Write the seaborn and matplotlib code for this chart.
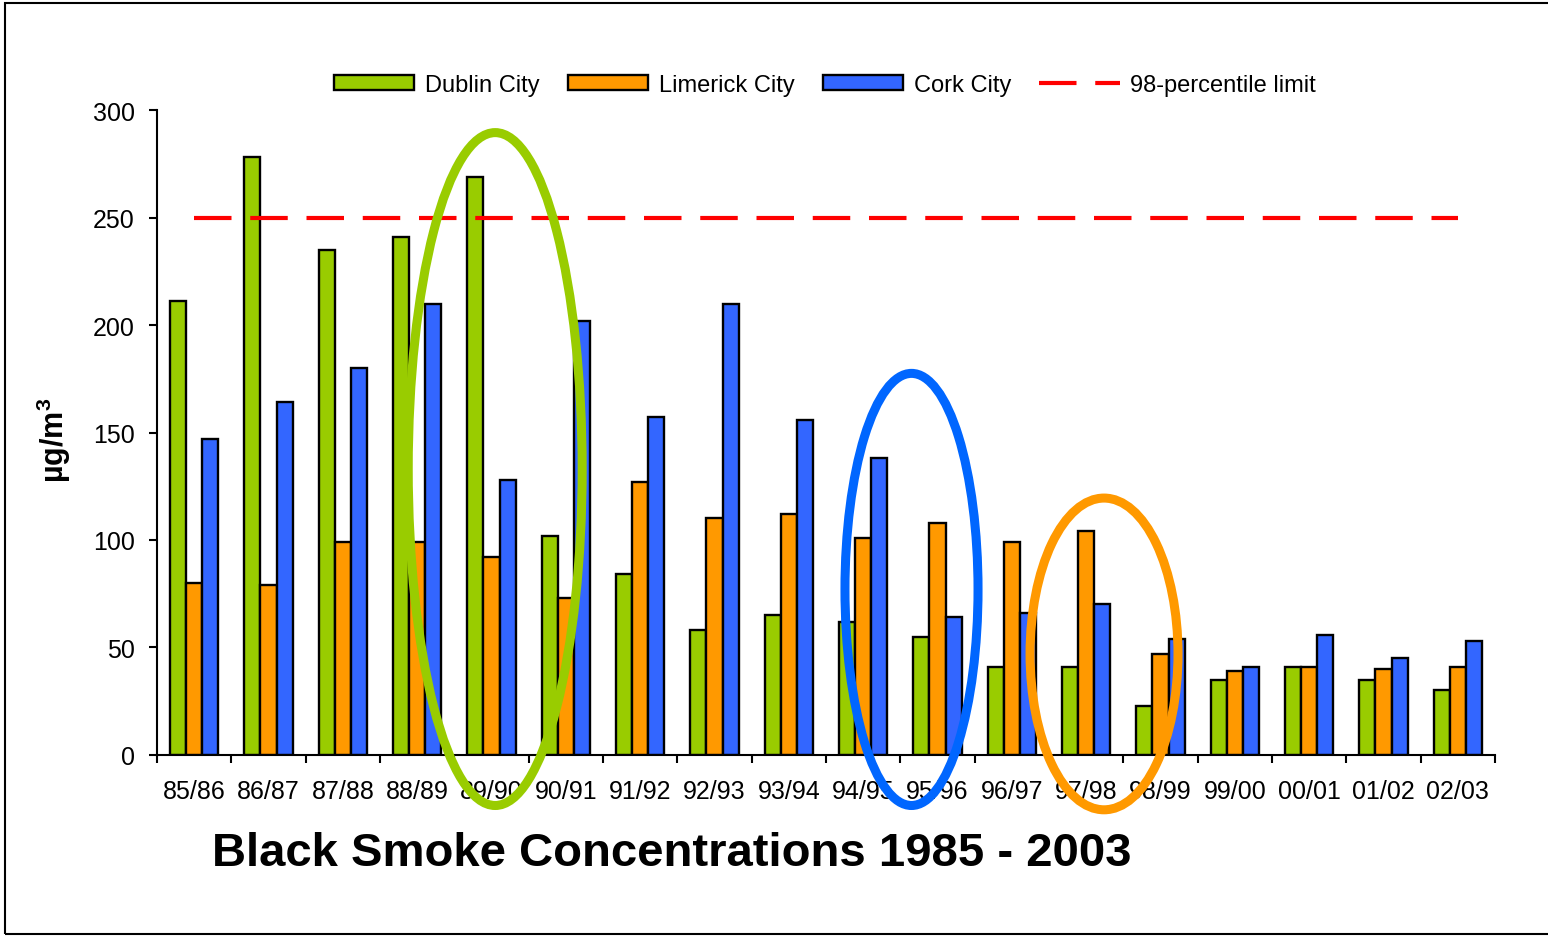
import pandas as pd
import numpy as np
import matplotlib.pyplot as plt
import seaborn as sns
from matplotlib.patches import Ellipse, Rectangle

# --- Dane (ug/m3) ---
seasons = ['85/86', '86/87', '87/88', '88/89', '89/90', '90/91', '91/92', '92/93', '93/94',
           '94/95', '95/96', '96/97', '97/98', '98/99', '99/00', '00/01', '01/02', '02/03']
dublin = [211, 278, 235, 241, 269, 102, 84, 58, 65, 62, 55, 41, 41, 23, 35, 41, 35, 30]
limerick = [80, 79, 99, 99, 92, 73, 127, 110, 112, 101, 108, 99, 104, 47, 39, 41, 40, 41]
cork = [147, 164, 180, 210, 128, 202, 157, 210, 156, 138, 64, 66, 70, 54, 41, 56, 45, 53]
limit = [250] * len(seasons)
cities = ['Dublin City', 'Limerick City', 'Cork City']
colors = ['#99CC00', '#FF9900', '#3366FF']

df = pd.DataFrame({'season': seasons, 'Dublin City': dublin,
                   'Limerick City': limerick, 'Cork City': cork})
df = df.melt(id_vars='season', var_name='city', value_name='value')

sns.set_style('ticks')
plt.rcParams['font.family'] = ['Liberation Sans', 'DejaVu Sans']
plt.rcParams['mathtext.fontset'] = 'custom'
plt.rcParams['mathtext.bf'] = 'Liberation Sans:bold'
plt.rcParams['mathtext.rm'] = 'Liberation Sans'
for k in ['text.color', 'axes.labelcolor', 'xtick.color', 'ytick.color', 'axes.edgecolor']:
    plt.rcParams[k] = 'black'

fig = plt.figure(figsize=(15.48, 9.37), dpi=100)
ax = fig.add_axes([0.1014, 0.1932, 0.8644, 0.6883])

sns.barplot(data=df, x='season', y='value', hue='city', hue_order=cities,
            palette=colors, width=0.65, edgecolor='black', linewidth=1.7,
            saturation=1, errorbar=None, ax=ax, legend=False)

# linia limitu 98-percentyla
limit_line, = ax.plot(range(len(seasons)), limit, color='#FF0000', lw=3, dashes=(9, 4.5),
                      label='98-percentile limit', zorder=3)

ax.set_xlim(-0.5, len(seasons) - 0.5)
ax.set_ylim(0, 300)
ax.set_yticks(np.arange(0, 301, 50))
ax.set_xlabel('')
ax.set_ylabel(r'µg/m$^\mathbf{3}$', fontsize=22, fontweight='bold')
ax.yaxis.set_label_coords(-0.063, 0.49)

# podzialki x na granicach kategorii
ax.set_xticks(range(len(seasons)))
ax.set_xticklabels(seasons)
ax.set_xticks(np.arange(-0.5, len(seasons), 1), minor=True)
ax.tick_params(axis='x', which='major', length=0, labelsize=18, pad=17)
ax.tick_params(axis='x', which='minor', length=6, width=1.5, direction='out')
ax.tick_params(axis='y', length=6, width=1.5, labelsize=18, pad=10)

for s in ['top', 'right']:
    ax.spines[s].set_visible(False)
for s in ['left', 'bottom']:
    ax.spines[s].set_linewidth(1.5)

# elipsy wyrozniajace
for (cx, cy, w, h, col) in [(4.05, 133, 2.34, 313, '#99CC00'),
                            (9.65, 77, 1.79, 201, '#0066FF'),
                            (12.24, 47, 1.99, 145, '#FF9900')]:
    ax.add_patch(Ellipse((cx, cy), w, h, fill=False, edgecolor=col, lw=6.5,
                         clip_on=False, zorder=5))

# legenda
handles = [Rectangle((0, 0), 1, 1, facecolor=c, edgecolor='black', lw=1.7) for c in colors]
fig.legend(handles + [limit_line], cities + ['98-percentile limit'], loc='center',
           bbox_to_anchor=(0.533, 0.908), ncol=4, frameon=False, fontsize=17,
           handlelength=3.4, handleheight=0.6, handletextpad=0.45, columnspacing=1.2)

fig.text(0.434, 0.0887, 'Black Smoke Concentrations 1985 - 2003', ha='center', va='center',
         fontsize=34, fontweight='bold')

# ramka wokol wykresu
fig.patches.append(Rectangle((0.0032, 0.0021), 1.0, 0.9936, transform=fig.transFigure,
                             fill=False, edgecolor='black', lw=1.5))

fig.savefig('out.png', dpi=100)
